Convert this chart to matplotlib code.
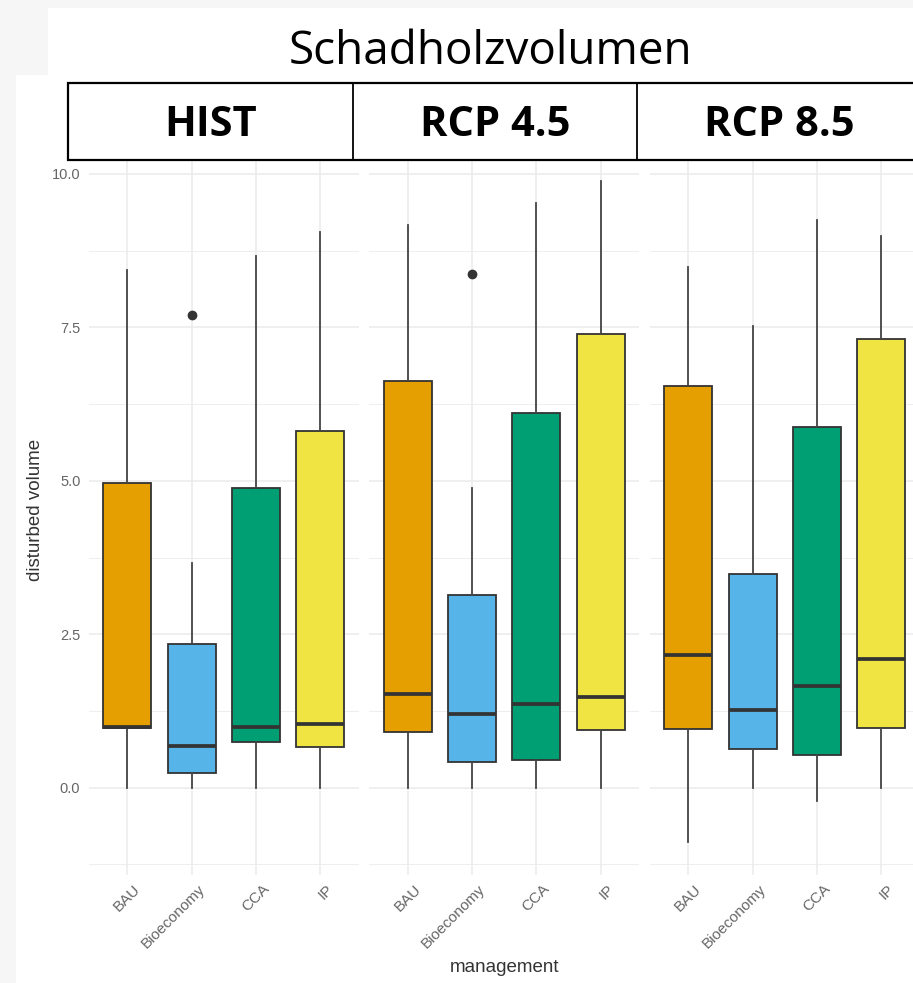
import matplotlib
matplotlib.use("Agg")
import matplotlib.pyplot as plt
from matplotlib.patches import Rectangle
from matplotlib.lines import Line2D
from matplotlib.ticker import MultipleLocator
import matplotlib.transforms as mtransforms

W, H, DPI = 913, 983, 100

scenarios = ["HIST", "RCP 4.5", "RCP 8.5"]
management = ["BAU", "Bioeconomy", "CCA", "IP"]
colors = ["#E69F00", "#56B4E9", "#009E73", "#F0E442"]

# box statistics per scenario (rows) and management option (columns)
whislo = [[0.00, 0.00, 0.00, 0.00],
          [0.00, 0.00, 0.00, 0.00],
          [-0.88, 0.00, -0.22, 0.00]]
q1 = [[0.97, 0.24, 0.74, 0.66],
      [0.91, 0.41, 0.45, 0.94],
      [0.95, 0.63, 0.54, 0.97]]
med = [[0.99, 0.68, 0.99, 1.04],
       [1.53, 1.20, 1.37, 1.48],
       [2.16, 1.26, 1.65, 2.10]]
q3 = [[4.96, 2.34, 4.88, 5.81],
      [6.63, 3.14, 6.11, 7.39],
      [6.55, 3.48, 5.87, 7.31]]
whishi = [[8.44, 3.66, 8.66, 9.06],
          [9.17, 4.88, 9.53, 9.89],
          [8.49, 7.53, 9.25, 8.99]]
outliers = [[[], [7.70], [], []],
            [[], [8.37], [], []],
            [[], [], [], []]]

title = "Schadholzvolumen"
ylabel = "disturbed volume"
xlabel = "management"


def fx(x):
    return x / W


def fy(y):
    return 1 - y / H


fig = plt.figure(figsize=(W / DPI, H / DPI), dpi=DPI, facecolor="white")

# slide background
bg = "#f6f6f6"
fig.patches.append(Rectangle((0, 0), 1, 1, transform=fig.transFigure,
                             facecolor=bg, edgecolor="none", zorder=-10))
fig.patches.append(Rectangle((fx(48), fy(75)), 1, fy(8) - fy(75),
                             transform=fig.transFigure, facecolor="white",
                             edgecolor="none", zorder=-9))
fig.patches.append(Rectangle((fx(16), 0), 1, fy(75),
                             transform=fig.transFigure, facecolor="white",
                             edgecolor="none", zorder=-9))

plt.rcParams["font.family"] = ["Liberation Sans", "DejaVu Sans"]

panel_left = [88.7, 369.1, 649.7]
panel_w = 270.2
top_px, bot_px = 147.6, 874.8
ylim = (-1.42, 10.43)
edge = "#333333"
grid_c = "#ebebeb"
tick_c = "#666666"

for i, scen in enumerate(scenarios):
    ax = fig.add_axes([fx(panel_left[i]), fy(bot_px),
                       panel_w / W, (bot_px - top_px) / H])
    ax.set_facecolor("white")
    stats = []
    for j, m in enumerate(management):
        stats.append(dict(label=m, whislo=whislo[i][j], q1=q1[i][j],
                          med=med[i][j], q3=q3[i][j], whishi=whishi[i][j],
                          fliers=outliers[i][j]))
    bp = ax.bxp(stats, positions=range(len(management)), widths=0.75,
                patch_artist=True, showcaps=False,
                boxprops=dict(edgecolor=edge, linewidth=1.3),
                medianprops=dict(color=edge, linewidth=2.7),
                whiskerprops=dict(color="#444444", linewidth=1.3),
                flierprops=dict(marker="o", markerfacecolor=edge,
                                markeredgecolor=edge, markersize=6))
    for patch, c in zip(bp["boxes"], colors):
        patch.set_facecolor(c)
    ax.set_xlim(-0.6, len(management) - 0.4)
    ax.set_ylim(*ylim)
    ax.yaxis.set_major_locator(MultipleLocator(2.5))
    ax.yaxis.set_minor_locator(MultipleLocator(1.25))
    ax.set_xticks(range(len(management)))
    ax.grid(True, which="major", color=grid_c, linewidth=1.1, zorder=0)
    ax.grid(True, which="minor", axis="y", color=grid_c, linewidth=0.6, zorder=0)
    ax.set_axisbelow(True)
    for s in ax.spines.values():
        s.set_visible(False)
    ax.tick_params(which="both", length=0)
    ax.set_xticklabels(management, rotation=45, ha="right", va="top",
                       rotation_mode="anchor", fontsize=11, color=tick_c)
    ax.tick_params(axis="x", pad=5)
    shift = mtransforms.ScaledTranslation(6 / DPI, 0, fig.dpi_scale_trans)
    for lab in ax.get_xticklabels():
        lab.set_transform(lab.get_transform() + shift)
    if i == 0:
        ax.set_yticklabels([f"{v:.1f}" for v in ax.get_yticks()])
        ax.tick_params(axis="y", labelsize=10.5, labelcolor=tick_c, pad=6)
    else:
        ax.tick_params(axis="y", labelleft=False)

fig.text(fx(35), fy(510), ylabel, rotation=90, ha="center", va="center",
         fontsize=13.5, color="#333333")
fig.text(fx(505), fy(968), xlabel, ha="center", va="center",
         fontsize=13.5, color="#333333")

# scenario header row
hx0, hx1, hy0, hy1 = 68, 930, 83, 160
fig.patches.append(Rectangle((fx(hx0), fy(hy1)), fx(hx1) - fx(hx0),
                             fy(hy0) - fy(hy1), transform=fig.transFigure,
                             facecolor="white", edgecolor="black",
                             linewidth=1.6, zorder=5))
cells = [68, 353, 637, 921]
for xd in cells[1:3]:
    fig.add_artist(Line2D([fx(xd), fx(xd)], [fy(hy0), fy(hy1)],
                          transform=fig.transFigure, color="black",
                          linewidth=1.3, zorder=6))
for k, scen in enumerate(scenarios):
    cx = (cells[k] + cells[k + 1]) / 2
    fig.text(fx(cx), fy(126), scen, ha="center", va="center",
             fontsize=30, fontweight="bold", family=["Open Sans", "DejaVu Sans"],
             zorder=7)

fig.text(fx(490), fy(52), title, ha="center", va="center", fontsize=33,
         family=["Open Sans", "DejaVu Sans"], zorder=7)

fig.savefig("out.png", dpi=DPI, facecolor=fig.get_facecolor())
